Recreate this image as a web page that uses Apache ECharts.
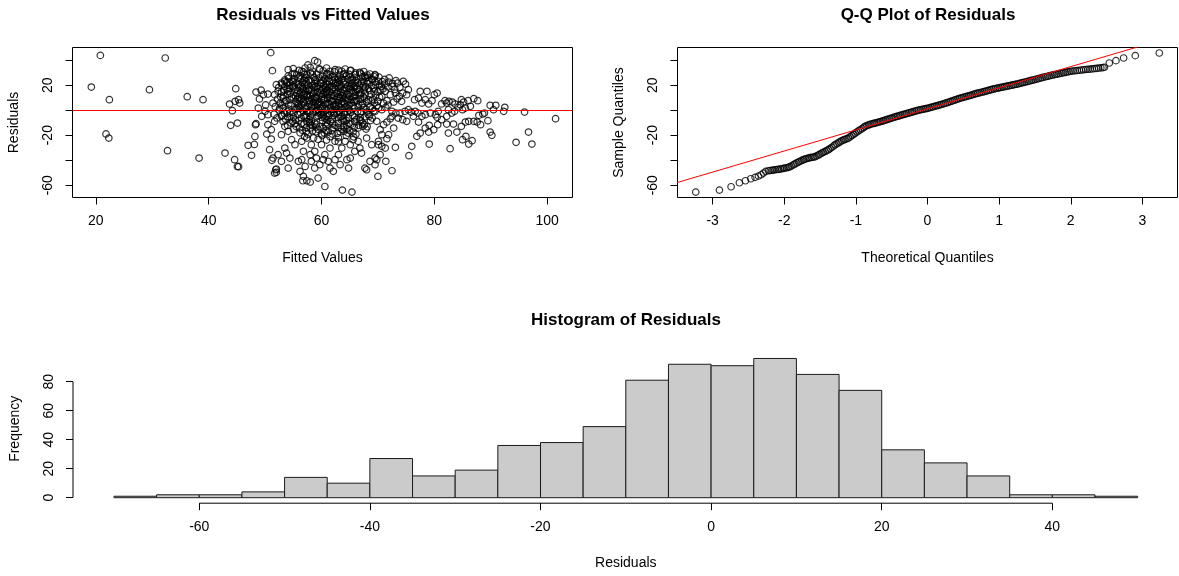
<!DOCTYPE html>
<html><head><meta charset="utf-8">
<script src="https://cdn.jsdelivr.net/npm/echarts@6/dist/echarts.min.js"></script>
<style>html,body{margin:0;padding:0;background:#fff}#c{width:1179px;height:576px}</style>
</head><body><div id="c"></div>
<script>
// ---- Residuals vs Fitted: [fitted, residual] ----
const scatterPoints = [
[20.8,43.8],[19.2,18.5],[22.4,8.4],[21.8,-19.0],[22.3,-22.3],[29.5,16.4],[32.3,41.7],[32.7,-32.4],[36.2,10.8],[39.0,8.4],[38.3,-38.3],[42.9,-34.3],[43.7,4.9],[44.2,-0.4],[43.9,-12.1],[44.8,17.2],[44.7,7.1],[45.1,-10.3],[45.3,8.4],[44.6,-39.6],[45.1,-45.0],[45.3,-45.2],[45.5,5.7],
[47.0,-28.1],[47.6,-36.1],[48.2,-21.0],[48.1,-27.4],[48.4,14.5],[48.4,-10.8],[49.0,9.0],[48.8,1.7],[49.7,12.4],[50.5,12.9],[50.0,-0.9],[49.4,-4.9],[50.5,-3.6],[50.3,-19.1],[50.5,-11.6],[51.1,-23.1],[51.1,-15.6],[51.7,-8.9],[52.0,20.4],[52.3,15.1],[51.7,12.4],[51.4,5.7],[51.0,46.0],[51.3,31.6],[52.9,21.7],[53.5,23.1],[53.2,9.7],[52.6,1.7],[52.9,-4.9],[53.5,-12.9],[54.1,-16.9],[52.9,-19.6],[48.3,-11.6],[50.8,-31.6],[51.4,-38.3],[52.3,-35.6],[51.2,-40.1],[51.9,-47.6],[52.0,-49.7],[49.3,16.0],[50.1,4.2],
[53.5,-30.3],[53.8,-34.3],[54.4,-38.3],[52.9,-40.9],[52.0,-47.0],[51.7,-50.3],[54.1,-46.3],[55.9,-40.9],[56.5,-39.6],[56.2,-48.9],[56.8,-52.9],[57.4,-56.4],[58.0,-57.5],[59.4,-54.3],[58.8,-46.3],[59.7,-43.6],[60.6,-35.6],[61.2,-40.9],[61.5,-46.3],[62.1,-48.9],[62.4,-39.6],[63.0,-35.6],[63.6,-30.3],[64.5,-39.6],[65.1,-38.3],[64.2,-24.9],[65.1,-27.6],[65.9,-32.9],[66.8,-30.3],[67.1,-34.3],[67.7,-46.3],[68.0,-47.6],[68.6,-40.9],[69.5,-38.3],[70.1,-27.6],[60.6,-61.0],[63.7,-63.9],[65.4,-65.5],[56.5,-24.9],[57.4,-22.3],[58.2,-27.6],[58.8,-32.9],[58.0,-35.6],[60.0,-27.6],[61.5,-30.3],[62.4,-24.9],[63.0,-25.3],[55.3,-27.6],[54.7,-23.6],[56.8,-32.9],[59.4,-23.3],[60.9,-23.9],[65.6,-23.6],[66.5,-24.9],[68.0,-22.3],[68.9,-27.6],[60.3,-39.6],[58.2,-40.9],[63.3,-43.6],[64.8,-46.3],[57.1,-45.0],[56.7,-56.4],[59.1,-38.3],
[54.1,32.4],[55.0,33.2],[56.5,31.1],[57.1,33.7],[58.0,34.2],[58.8,39.6],[59.3,38.5],[58.4,31.1],[59.7,32.4],[60.9,33.7],[61.5,31.1],[62.4,32.4],[63.6,31.1],[64.2,32.9],[65.1,31.6],[66.0,28.4],[66.8,29.7],[67.7,27.1],[68.6,28.9],[69.5,27.9],[55.6,28.3],[57.6,36.2],
[55.2,29.2],[56.8,30.6],[58.1,29.8],[59.6,33.1],[61.0,29.4],[62.3,30.8],[63.9,28.7],[65.2,31.9],[66.8,30.3],[68.1,28.1],
[54.1,27.3],[55.9,25.8],[57.4,28.4],[58.7,26.1],[60.2,27.2],[61.5,28.3],[62.9,25.7],[64.4,27.4],[65.8,26.2],[67.3,26.8],[68.9,25.1],[70.2,26.4],
[53.5,24.2],[54.8,23.1],[56.3,25.3],[57.7,23.8],[59.0,22.7],[60.6,25.1],[61.9,23.6],[63.2,22.9],[64.6,24.8],[66.1,23.7],[67.5,22.6],[69.0,24.3],[70.8,22.8],
[53.0,20.7],[54.3,19.8],[55.6,21.9],[57.0,20.6],[58.4,19.7],[59.8,21.8],[61.1,20.9],[62.6,19.6],[63.9,22.2],[65.4,20.8],[66.7,19.9],[68.2,21.7],[69.6,20.6],
[52.4,18.1],[53.9,16.8],[55.1,18.9],[56.6,17.7],[57.9,16.6],[59.3,18.8],[60.7,17.9],[62.0,16.7],[63.5,19.2],[64.9,17.6],[66.3,16.8],[67.8,18.7],[69.2,17.8],
[52.9,14.8],[54.5,13.7],[55.8,15.9],[57.2,14.8],[58.6,13.6],[60.0,15.8],[61.4,14.7],[62.8,13.8],[64.1,15.9],[65.6,14.6],[67.0,13.8],[68.5,15.7],[70.0,14.6],
[53.3,11.8],[54.7,10.6],[56.1,12.9],[57.5,11.7],[58.9,10.8],[60.3,12.6],[61.7,11.8],[63.1,10.7],[64.5,12.8],[65.9,11.6],[67.4,10.8],[68.8,12.7],
[52.2,8.9],[53.7,7.8],[55.0,9.8],[56.4,8.7],[57.8,7.6],[59.1,9.9],[60.5,8.8],[61.9,7.7],[63.3,9.8],[64.7,8.6],[66.2,7.8],[67.6,9.7],[69.1,8.8],
[52.7,5.8],[54.2,4.7],[55.5,6.9],[56.9,5.6],[58.3,4.8],[59.7,6.8],[61.2,5.7],[62.5,4.6],[63.8,6.9],[65.3,5.8],[66.6,4.7],[68.0,6.7],[69.4,5.9],
[51.8,2.8],[53.2,1.7],[54.6,3.9],[56.0,2.6],[57.3,1.8],[58.8,3.8],[60.1,2.7],[61.6,1.9],[63.0,3.7],[64.3,2.8],[65.8,1.6],[67.2,3.9],[68.6,2.7],[70.1,1.8],
[52.5,0.2],[53.9,-1.2],[55.3,0.9],[56.7,-0.3],[58.0,-1.1],[59.4,0.8],[60.8,0.1],[62.2,-1.3],[63.6,0.9],[65.0,-0.2],[66.4,-1.1],[67.9,0.7],[69.3,-0.4],
[51.6,-3.2],[53.0,-4.1],[54.4,-2.3],[55.8,-3.3],[57.1,-4.2],[58.5,-2.1],[59.9,-3.2],[61.3,-4.3],[62.7,-2.2],[64.0,-3.1],[65.5,-4.2],[66.9,-2.3],[68.3,-3.4],
[52.1,-6.2],[53.6,-7.1],[55.0,-5.3],[56.4,-6.2],[57.8,-7.3],[59.2,-5.1],[60.6,-6.3],[61.9,-7.2],[63.4,-5.2],[64.8,-6.1],[66.2,-7.3],[67.7,-5.2],[69.0,-6.3],
[53.2,-9.1],[54.6,-10.2],[56.0,-8.3],[57.4,-9.2],[58.8,-10.3],[60.2,-8.2],[61.6,-9.1],[63.0,-10.3],[64.4,-8.2],[65.9,-9.1],[67.3,-10.2],[68.7,-8.3],
[54.0,-12.2],[55.5,-13.1],[56.9,-11.2],[58.3,-12.3],[59.7,-13.2],[61.1,-11.1],[62.4,-12.2],[63.9,-13.3],[65.2,-11.2],[66.6,-12.1],[68.1,-13.2],
[55.1,-15.2],[56.6,-16.1],[58.0,-14.2],[59.4,-15.3],[60.8,-16.2],[62.2,-14.1],[63.6,-15.2],[65.0,-16.3],[66.5,-14.2],[67.9,-15.1],
[56.2,-18.1],[57.6,-19.2],[59.0,-17.3],[60.5,-18.2],[61.9,-19.1],[63.3,-17.2],[64.7,-18.3],[66.1,-19.2],
[57.0,-21.1],[58.6,-22.2],[60.1,-20.3],[61.5,-21.2],[63.0,-22.1],[64.4,-20.2],[65.7,-21.3],
[57.0,28.6],[60.9,28.4],[64.1,29.3],
[55.1,25.2],[57.2,26.1],[59.6,25.8],[61.3,25.4],[63.7,24.9],[65.1,26.3],[67.9,25.7],
[55.0,22.6],[56.6,22.3],[58.2,22.8],[59.9,21.7],[61.4,22.9],[62.9,21.8],[64.0,23.4],[65.8,22.2],[67.1,22.9],
[54.9,19.6],[56.3,19.2],[57.6,20.1],[59.0,18.9],[60.4,19.8],[61.8,19.3],[63.2,20.2],[64.6,19.1],[66.0,19.7],[67.4,19.4],
[55.3,16.2],[56.8,16.9],[58.2,16.1],[59.6,17.2],[61.0,16.3],[62.4,16.8],[63.8,16.2],[65.2,17.1],[66.7,16.4],
[55.6,13.3],[57.0,13.8],[58.4,13.1],[59.8,13.9],[61.2,13.2],[62.6,13.7],[64.0,13.3],[65.4,13.8],[66.8,13.1],
[56.0,10.2],[57.4,10.9],[58.8,10.1],[60.1,10.8],[61.5,10.3],[62.9,10.9],[64.3,10.2],[65.7,10.7],
[56.2,7.3],[57.6,7.9],[59.0,7.2],[60.4,7.8],[61.8,7.1],[63.2,7.9],[64.6,7.3],[66.0,7.7],
[56.5,4.2],[57.9,4.8],[59.3,4.3],[60.7,4.9],[62.1,4.1],[63.5,4.8],[64.9,4.2],
[57.1,1.3],[58.5,1.8],[59.9,1.2],[61.3,1.7],[62.7,1.1],[64.1,1.9],
[57.6,-1.7],[59.0,-1.2],[60.4,-1.8],[61.8,-1.3],[63.2,-1.7],[64.6,-1.2],
[58.0,-4.8],[59.4,-4.3],[60.8,-4.7],[62.2,-4.2],[63.6,-4.9],
[56.2,27.6],[59.1,28.8],[62.0,27.1],[64.9,28.6],[67.0,28.9],
[54.3,22.4],[56.9,23.9],[58.9,24.6],[61.0,23.2],[62.4,24.7],[65.3,23.9],[68.4,23.4],
[55.9,20.3],[58.8,21.2],[60.8,20.7],[62.5,21.5],[64.2,20.7],[67.0,21.2],[70.3,20.1],
[54.4,17.3],[57.4,17.4],[60.2,17.1],[61.4,18.5],[63.0,17.5],[65.8,18.2],[68.3,17.3],
[54.1,15.2],[56.4,14.4],[59.3,14.6],[60.6,14.3],[63.4,14.4],[66.1,14.3],[69.3,14.8],
[55.4,11.4],[58.1,11.4],[59.6,11.3],[62.3,11.3],[65.0,11.2],[66.9,12.0],
[54.4,8.3],[57.1,8.3],[60.0,8.3],[62.6,8.4],[65.4,8.3],[68.3,8.2],
[55.8,5.2],[58.6,6.1],[61.5,4.4],[64.1,5.4],[67.3,5.3],
[55.7,1.2],[58.2,2.4],[60.6,1.5],[63.4,2.4],[66.5,2.5],[69.0,1.3],
[55.0,-1.8],[57.4,-0.9],[61.1,-2.6],[64.0,-1.6],[67.1,-1.0],
[54.0,-5.2],[56.9,-4.8],[60.0,-5.6],[63.0,-6.0],[65.8,-5.4],[68.5,-4.9],
[55.4,-7.7],[58.2,-8.6],[61.0,-7.9],[64.0,-8.9],[66.8,-7.8],
[56.5,-10.6],[59.1,-11.4],[62.0,-10.4],[64.9,-10.5],[67.6,-11.6],
[57.3,-13.8],[60.3,-14.4],[63.0,-13.9],[65.8,-13.5],
[58.4,-16.6],[61.2,-17.5],[64.0,-16.9],
[56.0,31.8],[60.3,31.5],[63.0,32.0],[67.5,30.9],
[54.8,28.9],[58.4,28.3],[63.3,28.1],[66.0,29.8],[69.4,26.7],
[54.2,25.6],[57.0,25.0],[60.0,24.1],[62.3,26.4],[65.5,25.0],[68.2,26.2],[71.2,24.6],
[53.8,22.1],[57.3,22.7],[60.3,23.4],[63.0,24.2],[66.5,22.0],[69.5,22.7],[72.6,21.3],
[53.5,18.9],[56.0,18.5],[58.7,18.1],[62.2,18.3],[65.2,19.4],[68.9,19.7],[71.8,18.6],
[53.3,15.9],[57.7,15.7],[60.9,15.0],[64.4,17.3],[67.6,16.1],[70.5,16.3],
[54.0,12.9],[56.8,12.1],[61.0,12.2],[63.7,11.9],[67.7,13.0],[69.6,12.0],
[52.8,10.3],[55.7,9.0],[58.3,9.3],[61.1,9.5],[64.0,9.3],[66.9,9.0],[70.3,10.4],
[53.5,6.6],[56.8,7.1],[59.5,5.6],[62.9,6.3],[65.8,6.6],[68.8,7.4],[71.0,5.6],
[53.0,3.9],[55.9,4.0],[59.9,4.5],[62.5,2.9],[65.6,3.7],[69.8,3.6],
[54.2,0.9],[56.2,1.4],[59.1,-0.1],[62.0,0.6],[64.8,1.2],[67.5,2.1],
[53.4,-2.5],[56.3,-2.1],[59.5,-2.2],[62.3,-2.9],[65.2,-1.8],[68.0,-1.6],
[54.4,-6.1],[57.3,-5.6],[60.3,-4.5],[63.9,-6.8],[66.9,-5.9],
[54.9,-8.8],[57.9,-9.6],[60.8,-10.0],[63.6,-8.0],[67.0,-8.6],
[55.3,-10.9],[58.0,-11.0],[60.8,-12.6],[64.5,-12.0],[67.3,-12.9],
[56.1,-14.2],[59.0,-13.6],[61.9,-15.9],[64.5,-14.9],
[57.3,-17.1],[60.0,-19.0],[62.8,-18.6],[65.6,-17.4],
[101.5,-6.8],[96.0,-1.5],[96.7,-17.5],[97.3,-27.1],[94.5,-25.7],[92.3,-0.9],[92.5,2.3],[90.9,3.9],[89.9,3.9],[90.5,0.4],[89.9,-17.5],[90.2,-20.1],[89.5,-8.4],[88.6,-3.1],[88.9,-2.3],[87.9,-4.1],[88.2,-11.6],[87.6,-9.5],[87.0,-8.9],[87.0,9.2],[87.7,7.6],[86.0,7.6],[86.4,3.1],[85.2,6.5],[84.8,8.4],[85.0,0.4],[85.5,1.7],[84.6,4.4],[84.8,-12.9],[85.5,-9.5],[86.1,-8.9],[85.6,-20.9],[85.0,-23.6],[86.7,-24.4],[86.1,-27.1],[84.0,-17.5],[83.4,-11.1],[82.5,-18.3],[82.2,-11.1],[82.8,-30.8],[82.2,-4.9],[82.5,0.4],[83.1,-2.3],[82.2,5.7],[82.6,7.1],[83.2,6.5],[83.7,4.9],[84.2,2.3],[83.6,-0.9],
[81.9,7.6],[81.3,5.0],[80.5,13.7],[80.0,12.4],[79.6,7.6],[79.0,5.0],[78.4,8.4],[77.8,5.7],[77.2,9.7],[77.5,15.1],[78.7,15.1],[76.5,8.4],[80.7,-0.9],[80.2,-3.6],[79.3,-2.3],[78.4,-3.6],[77.8,-4.9],[77.1,-2.3],[76.6,-0.9],[80.5,-5.7],[81.3,-7.6],[80.6,-11.6],[79.9,-15.6],[79.1,-12.1],[79.0,-17.5],[78.4,-14.3],[77.5,-18.3],[76.9,-20.9],[79.1,-27.1],[76.0,-28.9],[75.5,-36.4],[76.3,-4.9],[77.2,-9.5],
[69.5,28.4],[70.1,23.1],[70.6,19.1],[71.2,20.9],[71.9,22.5],[72.5,19.1],[73.2,23.6],[73.5,21.7],[73.9,18.3],[74.5,23.1],[74.9,20.9],[75.4,16.4],[75.1,12.4],[71.3,15.1],[72.2,12.4],[73.1,13.7],[73.8,11.1],[74.4,13.7],[70.7,11.1],[70.0,7.1],[71.6,7.6],[72.8,6.5],[74.2,7.1],[69.5,-0.9],[70.7,0.4],[71.4,2.3],[72.5,-0.9],[73.2,-2.3],[73.9,-2.3],[74.8,-0.9],[75.4,0.4],[75.9,-1.5],[69.8,-8.9],[70.4,-15.6],[71.0,-11.6],[71.6,-9.5],[72.2,-6.8],[72.5,-4.9],[72.8,-14.3],[73.6,-6.3],[74.4,-7.6],[75.1,-8.9],[71.9,-19.6],[71.6,-22.8],[70.7,-19.6],[70.1,-24.9],[70.7,-28.9],[71.3,-30.3],[73.1,-29.7],[70.4,-35.6],[69.8,-39.6],[71.4,-40.9],[72.5,-48.4],[70.0,-52.9],[69.5,-43.6],[72.0,25.8],[70.9,17.0],[73.0,16.6],[71.8,4.1],[73.4,9.2]
];

// ---- Q-Q plot: [theoretical quantile, sample quantile] ----
const qqPoints = [
[-3.235,-65.5],[-2.905,-63.9],[-2.742,-61.2],[-2.626,-58.0],[-2.542,-56.4],[-2.467,-54.8],[-2.407,-53.7],[-2.36,-52.7],[-2.323,-51.6],[-2.29,-50.3],[-2.258,-48.9],
[-2.22,-48.4],[-2.195,-48.2],[-2.17,-48.0],[-2.15,-47.8],[-2.127,-47.6],[-2.10,-47.4],[-2.08,-47.2],[-2.055,-47.0],[-2.034,-46.8],[-2.01,-46.5],[-1.99,-46.3],[-1.965,-46.0],[-1.941,-45.7],[-1.92,-45.2],[-1.895,-44.5],[-1.871,-43.6],[-1.85,-43.0],[-1.825,-42.2],[-1.801,-41.5],[-1.78,-40.9],[-1.755,-40.2],[-1.732,-39.6],[-1.71,-39.1],[-1.685,-38.7],[-1.662,-38.3],[-1.64,-38.0],[-1.615,-37.7],[-1.59,-37.5],[-1.569,-37.2],[-1.545,-36.5],[-1.52,-35.8],[-1.50,-35.1],[-1.476,-34.3],[-1.455,-33.7],[-1.43,-33.0],[-1.405,-32.3],[-1.382,-31.6],[-1.36,-30.7],[-1.335,-29.7],[-1.31,-28.6],[-1.29,-27.6],[-1.265,-26.8],[-1.24,-26.0],[-1.22,-25.2],[-1.196,-24.4],[-1.17,-23.8],[-1.15,-23.3],[-1.125,-22.8],[-1.103,-22.3],[-1.08,-21.3],[-1.055,-20.3],[-1.03,-19.3],[-1.01,-18.4],[-0.987,-17.5],[-0.965,-16.6],[-0.94,-15.7],[-0.915,-14.8],[-0.89,-13.8],[-0.87,-12.9],[-0.845,-12.3],[-0.82,-11.8],[-0.80,-11.3],[-0.775,-10.9],[-0.75,-10.6],[-0.731,-10.3],[-0.705,-9.9],[-0.68,-9.5],[-0.655,-9.1],[-0.63,-8.7],[-0.61,-8.3],[-0.585,-7.8],[-0.56,-7.4],[-0.535,-6.9],[-0.51,-6.5],[-0.49,-6.1],[-0.465,-5.6],[-0.44,-5.2],[-0.415,-4.8],[-0.39,-4.4],[-0.37,-4.0],[-0.345,-3.6],[-0.32,-3.2],[-0.295,-2.8],[-0.27,-2.4],[-0.245,-2.0],[-0.22,-1.6],[-0.20,-1.2],[-0.175,-0.8],[-0.15,-0.4],[-0.125,0.0],[-0.10,0.3],[-0.075,0.6],[-0.05,0.9],[-0.025,1.2],
[0.0,1.5],[0.025,1.9],[0.05,2.3],[0.075,2.7],[0.10,3.1],[0.125,3.5],[0.15,3.9],[0.175,4.3],[0.20,4.7],[0.225,5.1],[0.25,5.6],[0.275,6.0],[0.30,6.5],[0.325,7.0],[0.35,7.5],[0.375,8.0],[0.40,8.5],[0.425,9.0],[0.45,9.5],[0.475,9.9],[0.50,10.3],[0.525,10.7],[0.55,11.1],[0.575,11.5],[0.60,11.9],[0.625,12.3],[0.65,12.8],[0.675,13.2],[0.70,13.6],[0.725,13.9],[0.75,14.3],[0.775,14.6],[0.80,15.0],[0.825,15.4],[0.85,15.8],[0.875,16.2],[0.90,16.6],[0.925,17.0],[0.95,17.3],[0.975,17.6],[1.00,17.9],[1.025,18.2],[1.05,18.5],[1.075,18.8],[1.10,19.1],[1.125,19.4],[1.15,19.7],[1.175,20.0],[1.20,20.3],[1.225,20.6],[1.25,20.9],[1.275,21.2],[1.30,21.6],[1.325,22.0],[1.35,22.3],[1.375,22.7],[1.40,23.0],[1.425,23.4],[1.45,23.8],[1.475,24.1],[1.50,24.5],[1.525,24.9],[1.55,25.3],[1.575,25.6],[1.60,26.0],[1.625,26.4],[1.65,26.7],[1.675,27.1],[1.70,27.4],[1.725,27.8],[1.75,28.1],[1.775,28.4],[1.80,28.7],[1.825,29.0],[1.85,29.3],[1.875,29.6],[1.90,29.9],[1.925,30.2],[1.95,30.5],[1.975,30.8],[2.00,31.1],[2.03,31.3],[2.06,31.5],[2.09,31.7],[2.12,31.9],[2.15,32.1],[2.18,32.3],[2.21,32.5],[2.24,32.7],[2.27,32.8],[2.30,33.0],[2.33,33.2],[2.36,33.4],[2.39,33.6],[2.42,33.8],[2.45,34.0],[2.47,34.3],
[2.538,37.7],[2.631,39.6],[2.738,41.7],[2.901,43.6],[3.236,45.7]
];
const qqLine = [[-3.6,-59.6],[3.6,61.8]];

// ---- Histogram ----
const histBreaks = [-70,-65,-60,-55,-50,-45,-40,-35,-30,-25,-20,-15,-10,-5,0,5,10,15,20,25,30,35,40,45,50];
const histCounts = [1,2,2,4,14,10,27,15,19,36,38,49,81,92,91,96,85,74,33,24,15,2,2,1];

// ---- ticks ----
const fittedTicks = [20,40,60,80,100];
const residTicks = [-60,-40,-20,0,20,40];
const residTickLabels = [-60,-20,20];
const qqTicks = [-3,-2,-1,0,1,2,3];
const histXTicks = [-60,-40,-20,0,20,40];
const histYTicks = [0,20,40,60,80];

const FONT = '"Liberation Sans", Arial, Helvetica, sans-serif';
const tickFont = {color:'#000', fontSize:14, fontFamily:FONT};
const nameFont = {color:'#000', fontSize:14, fontFamily:FONT};

function axis(o) {
  const a = {
    type:'value', gridIndex:o.grid, min:o.min, max:o.max,
    axisLine:{show:false, onZero:false}, splitLine:{show:false},
    axisTick:{show:true, length:7, customValues:o.ticks, lineStyle:{color:'#000', width:1}},
    axisLabel:Object.assign({customValues:o.labels || o.ticks, margin:o.margin, rotate:o.rotate || 0}, tickFont),
    name:o.name, nameLocation:'middle', nameGap:o.gap, nameTextStyle:nameFont
  };
  if (o.nameRotate != null) a.nameRotate = o.nameRotate;
  return a;
}

const chart = echarts.init(document.getElementById('c'), null, {renderer:'canvas'});
const titleStyle = {fontSize:17, fontWeight:'bold', fontFamily:FONT, color:'#000'};
const symStyle = {color:'rgba(0,0,0,0)', borderColor:'#000', borderWidth:1.2};
chart.setOption({
  animation:false,
  backgroundColor:'#fff',
  title:[
    {text:'Residuals vs Fitted Values', left:323, top:7, textAlign:'center', padding:0, textStyle:titleStyle},
    {text:'Q-Q Plot of Residuals', left:928, top:7, textAlign:'center', padding:0, textStyle:titleStyle},
    {text:'Histogram of Residuals', left:626, top:312, textAlign:'center', padding:0, textStyle:titleStyle}
  ],
  grid:[
    {left:72.5, top:47.5, width:500, height:150, show:true, borderColor:'#000', borderWidth:1, backgroundColor:'rgba(0,0,0,0)'},
    {left:677.5, top:47.5, width:500, height:150, show:true, borderColor:'#000', borderWidth:1, backgroundColor:'rgba(0,0,0,0)'},
    {left:73, top:354.4, width:1105.6, height:148.8, show:false}
  ],
  xAxis:[
    axis({grid:0, min:15.86, max:104.5, ticks:fittedTicks, margin:17, name:'Fitted Values', gap:54}),
    axis({grid:1, min:-3.49, max:3.49, ticks:qqTicks, margin:17, name:'Theoretical Quantiles', gap:54}),
    axis({grid:2, min:-74.8, max:54.8, ticks:histXTicks, margin:17, name:'Residuals', gap:53})
  ],
  yAxis:[
    axis({grid:0, min:-69.8, max:50.1, ticks:residTicks, labels:residTickLabels, margin:17, rotate:90, name:'Residuals', gap:51, nameRotate:90}),
    axis({grid:1, min:-69.8, max:50.1, ticks:residTicks, labels:residTickLabels, margin:17, rotate:90, name:'Sample Quantiles', gap:51, nameRotate:90}),
    axis({grid:2, min:-3.8, max:98.8, ticks:histYTicks, margin:17, rotate:90, name:'Frequency', gap:51, nameRotate:90})
  ],
  series:[
    {type:'scatter', xAxisIndex:0, yAxisIndex:0, data:scatterPoints, symbol:'circle', symbolSize:6.5,
     itemStyle:symStyle, silent:true,
     markLine:{silent:true, symbol:['none','none'], label:{show:false}, lineStyle:{color:'#ff0000', width:1, type:'solid'}, data:[{yAxis:0}]}},
    {type:'scatter', xAxisIndex:1, yAxisIndex:1, data:qqPoints, symbol:'circle', symbolSize:6.5,
     itemStyle:symStyle, silent:true},
    {type:'line', xAxisIndex:1, yAxisIndex:1, data:qqLine, symbol:'none', lineStyle:{color:'#ff0000', width:1}, silent:true, clip:true, z:5},
    {type:'custom', xAxisIndex:2, yAxisIndex:2, silent:true,
     data:histCounts.map((c,i)=>[histBreaks[i], histBreaks[i+1], c]),
     encode:{x:[0,1], y:2},
     renderItem:function(params, api){
       const p0 = api.coord([api.value(0), api.value(2)]);
       const p1 = api.coord([api.value(1), 0]);
       return {type:'rect', shape:{x:p0[0], y:p0[1], width:p1[0]-p0[0], height:p1[1]-p0[1]},
               style:{fill:'#cbcbcb', stroke:'#1a1a1a', lineWidth:1}};
     }},
    {type:'line', xAxisIndex:2, yAxisIndex:2, data:[[histXTicks[0],-3.8],[histXTicks[histXTicks.length-1],-3.8]], symbol:'none', clip:false, lineStyle:{color:'#000', width:1}, silent:true},
    {type:'line', xAxisIndex:2, yAxisIndex:2, data:[[-74.8,histYTicks[0]],[-74.8,histYTicks[histYTicks.length-1]]], symbol:'none', clip:false, lineStyle:{color:'#000', width:1}, silent:true}
  ]
});
</script></body></html>
